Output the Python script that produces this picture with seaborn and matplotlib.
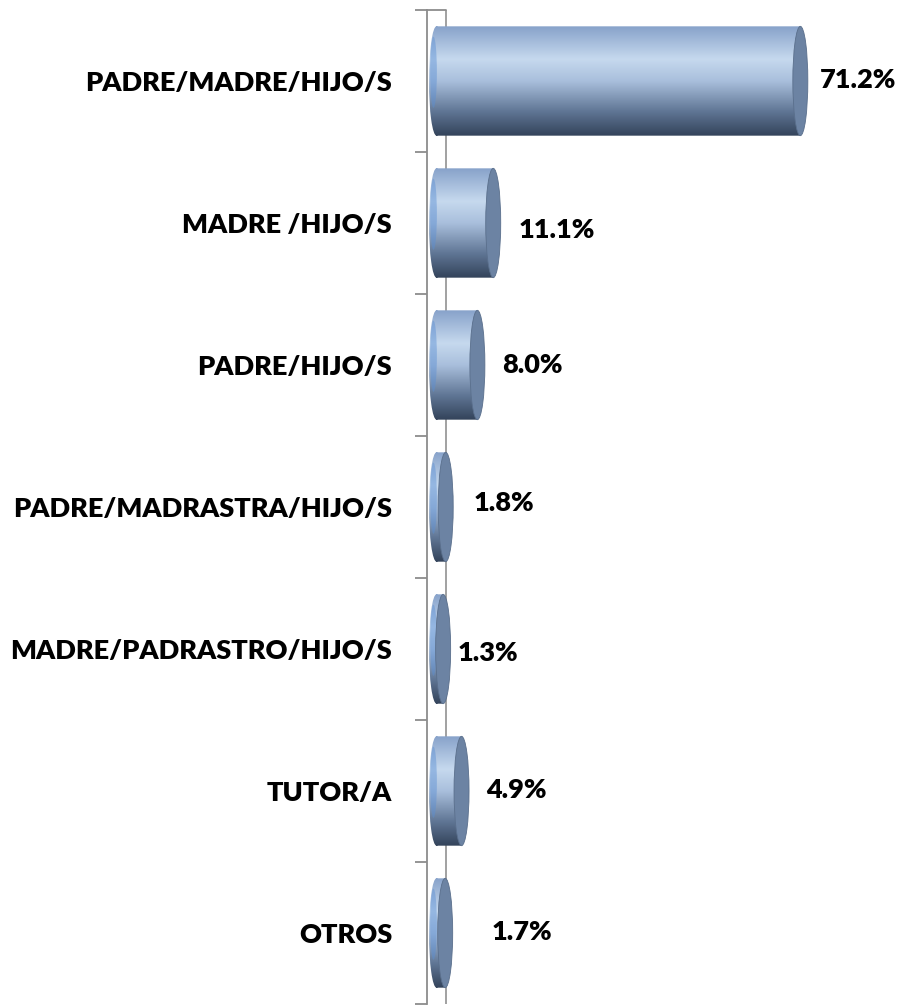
import numpy as np
import pandas as pd
import seaborn as sns
import matplotlib
matplotlib.use("Agg")
import matplotlib.pyplot as plt
from matplotlib.patches import Ellipse, Rectangle, PathPatch
from matplotlib.path import Path
from matplotlib.colors import LinearSegmentedColormap

categories = ["PADRE/MADRE/HIJO/S", "MADRE /HIJO/S", "PADRE/HIJO/S",
              "PADRE/MADRASTRA/HIJO/S", "MADRE/PADRASTRO/HIJO/S", "TUTOR/A", "OTROS"]
values = [71.2, 11.1, 8.0, 1.8, 1.3, 4.9, 1.7]
value_labels = ["71.2%", "11.1%", "8.0%", "1.8%", "1.3%", "4.9%", "1.7%"]

# label offsets (pixels) from bar end, as placed in the original (positive dy = down)
label_dx = [20, 25, 25, 28, 14, 25, 46]
label_dy = [-1, 7, 0, -4, 4, -1, -1]

sns.set_theme(style="white")
plt.rcParams['font.family'] = ['Lato', 'DejaVu Sans']

W, H = 907, 1006
fig = plt.figure(figsize=(W / 100, H / 100), dpi=100)
ax_left, ax_right = 427, 885
ax_top, ax_bot = 10, 1004
ax = fig.add_axes([ax_left / W, 1 - ax_bot / H, (ax_right - ax_left) / W, (ax_bot - ax_top) / H])

df = pd.DataFrame({"cat": categories, "val": values})
bar_h = 0.77
sns.barplot(data=df, y="cat", x="val", orient="h", ax=ax, color="#8fa9cf",
            width=bar_h, saturation=1, zorder=3)

px_per = 5.11
zero_px = 436.5
x0 = -(zero_px - ax_left) / px_per
x1 = (ax_right - zero_px) / px_per
ax.set_xlim(x0, x1)
ax.set_ylim(len(categories) - 0.5, -0.5)

cap_w = 15 / px_per  # ellipse width in data units

cmap = LinearSegmentedColormap.from_list(
    "cyl", [(0.0, "#87a2ca"), (0.3, "#c6d9ee"), (0.5, "#a9bfdc"),
            (0.78, "#5f7594"), (1.0, "#33435a")])
grad = np.linspace(0, 1, 256).reshape(-1, 1)

for p in list(ax.patches):
    x = p.get_x()
    y = p.get_y()
    w = p.get_width()
    h = p.get_height()
    p.set_visible(False)
    end = Ellipse((x, y + h / 2), cap_w, h)
    rect = Rectangle((x, y), w, h)
    ep = end.get_path().transformed(end.get_patch_transform())
    rp = rect.get_path().transformed(rect.get_patch_transform())
    rcodes = rp.codes if rp.codes is not None else \
        [Path.MOVETO] + [Path.LINETO] * (len(rp.vertices) - 2) + [Path.CLOSEPOLY]
    clip = PathPatch(Path(np.vstack([ep.vertices, rp.vertices]),
                          np.concatenate([ep.codes, rcodes])),
                     transform=ax.transData, facecolor="none", edgecolor="none")
    ax.add_patch(clip)
    im = ax.imshow(grad, cmap=cmap, aspect="auto", zorder=3,
                   extent=(x - cap_w / 2, x + w, y + h, y), interpolation="bilinear")
    im.set_clip_path(clip)
    hl = Ellipse((x - cap_w * 0.2, y + h * 0.42), cap_w * 0.45, h * 0.65,
                 facecolor="#5b8fd4", edgecolor="none", alpha=0.45, zorder=3.5)
    ax.add_patch(hl)
    hl.set_clip_path(clip)
    cap = Ellipse((x + w, y + h / 2), cap_w, h, facecolor="#6c83a3",
                  edgecolor="#5a6f8c", linewidth=0.6, zorder=4)
    ax.add_patch(cap)

for i, (v, lab) in enumerate(zip(values, value_labels)):
    ax.annotate(lab, xy=(v, i), xytext=(label_dx[i] * 0.72, -label_dy[i] * 0.72),
                textcoords="offset points", ha="left", va="center",
                fontsize=19.5, fontweight="heavy", color="black", zorder=6)

ax.spines[["top", "right", "bottom"]].set_visible(False)
ax.spines["left"].set_color("#8c8c8c")
ax.spines["left"].set_linewidth(1.3)
back_x = (446 - zero_px) / px_per
ax.axvline(back_x, color="#9a9a9a", lw=1.3, zorder=1)
ax.plot([x0, back_x], [-0.5, -0.5], color="#8c8c8c", lw=1.3, zorder=1, clip_on=False)

ax.set_xticks([])
ax.set_yticks(np.arange(-0.5, len(categories), 1.0), minor=True)
ax.tick_params(axis="y", which="minor", length=9, width=1.3, color="#8c8c8c", left=True)
ax.tick_params(axis="y", which="major", length=0, pad=35 * 0.72)
ax.set_yticks(range(len(categories)))
ax.set_yticklabels(categories, fontsize=19.5, fontweight="heavy", color="black")
ax.set_xlabel("")
ax.set_ylabel("")
ax.grid(False)

fig.savefig("out.png", dpi=100)
